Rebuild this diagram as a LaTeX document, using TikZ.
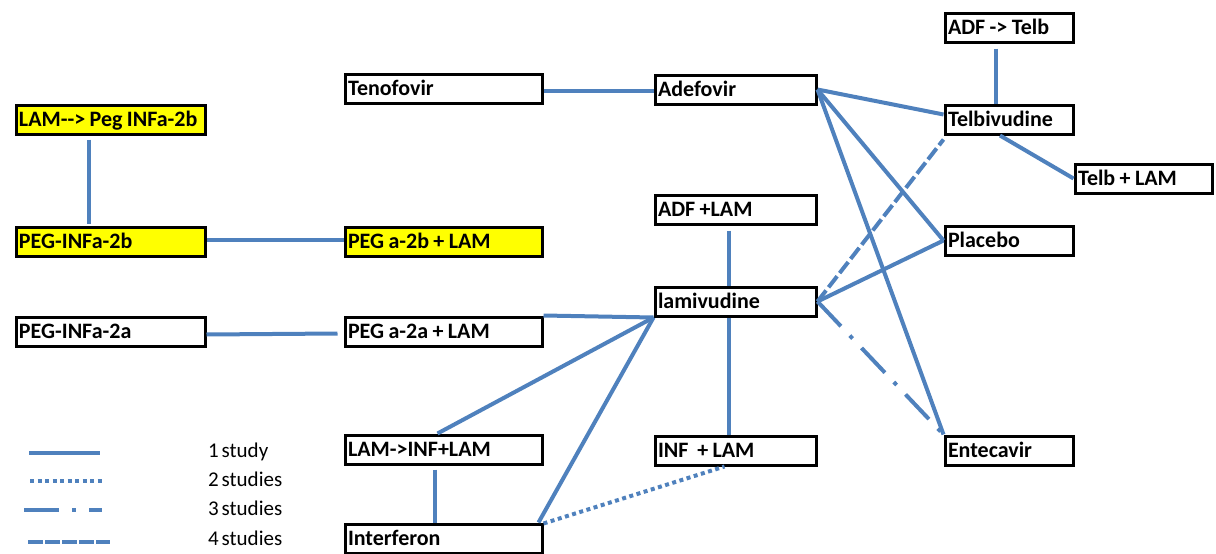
\documentclass[tikz,border=0pt]{standalone}
\usepackage{fontspec}
\setmainfont{Carlito}[WordSpace=0.6]
\definecolor{linkblue}{RGB}{79,129,189}
\definecolor{hiyellow}{RGB}{255,255,0}
\newcommand{\drugfont}{\fontsize{22}{24}\selectfont\bfseries}
\newcommand{\tightwords}{\spaceskip 0.2em\relax\xspaceskip 0.2em\relax}
\begin{document}
\begin{tikzpicture}[x=1pt,y=-1pt,
  drug/.style={draw=black, line width=3pt, anchor=north west, inner xsep=3pt,
    inner ysep=0pt, minimum height=29pt, text width=#1, align=left,
    text height=14pt, text depth=0pt, font=\drugfont,
    execute at begin node=\tightwords},
  hl/.style={fill=hiyellow},
  link/.style={draw=linkblue, line width=4pt},
  one/.style={link},
  two/.style={link, dash pattern=on 4pt off 3.5pt},
  three/.style={link, dash pattern=on 34pt off 13pt on 4pt off 13pt},
  four/.style={link, dash pattern=on 14pt off 4pt},
  key/.style={anchor=base west, inner sep=0pt, font=\fontsize{21}{24}\selectfont}]

\useasboundingbox (0,0) rectangle (1216,554);

% treatment boxes
\node[drug=183pt, hl] (lampeg)   at (14.5,103.5)  {\mbox{LAM-{}-> Peg INFa-2b}};
\node[drug=183pt, hl] (peg2b)    at (14.5,225.5)  {PEG-INFa-2b};
\node[drug=183pt]     (peg2a)    at (14.5,315.5)  {PEG-INFa-2a};

\node[drug=191pt]     (teno)     at (343.5,72.5)  {Tenofovir};
\node[drug=191pt, hl] (peg2blam) at (343.5,225.5) {PEG a-2b + LAM};
\node[drug=191pt]     (peg2alam) at (343.5,315.5) {PEG a-2a + LAM};
\node[drug=191pt]     (lamiinf)  at (343.5,433.5) {LAM->INF+LAM};
\node[drug=191pt]     (interf)   at (343.5,522.5) {Interferon};

\node[drug=155pt]     (adef)     at (653.5,73.5)  {Adefovir};
\node[drug=155pt]     (adflam)   at (653.5,193.5) {ADF +LAM};
\node[drug=155pt]     (lami)     at (653.5,285.5) {lamivudine};
\node[drug=155pt]     (inflam)   at (653.5,434.5) {INF\ \ + LAM};

\node[drug=122pt]     (adftelb)  at (943.5,11.5)  {ADF -> Telb};
\node[drug=122pt]     (telb)     at (943.5,103.5) {Telbivudine};
\node[drug=131pt]     (telblam)  at (1073.5,162.5) {Telb + LAM};
\node[drug=122pt]     (placebo)  at (943.5,224.5) {Placebo};
\node[drug=122pt]     (ente)     at (943.5,434.5) {Entecavir};

% comparisons
\draw[one] ([yshift=-2pt]teno.east) -- ([yshift=-1pt]adef.west);
\draw[one] (adef.east) -- ([yshift=5pt]telb.west);
\draw[one] (adef.east) -- (placebo.west);
\draw[one] (adef.east) -- (ente.north west);
\draw[one] ([xshift=-13pt,yshift=-5pt]adftelb.south) -- ([xshift=-13pt]telb.north);
\draw[one] ([xshift=-9pt]telb.south) -- (telblam.west);

\draw[four]  (lami.east) -- ([yshift=-4pt]telb.south west);
\draw[one]   (lami.east) -- (placebo.west);
\draw[three] (lami.east) -- (ente.north west);
\draw[one] ([xshift=-7pt,yshift=-5pt]adflam.south) -- ([xshift=-7pt]lami.north);
\draw[one] ([xshift=-7pt]lami.south) -- ([xshift=-7pt]inflam.north);

\draw[one] (peg2alam.north east) -- (lami.south west);
\draw[one] ([xshift=-6pt]lamiinf.north) -- (lami.south west);
\draw[one] ([xshift=-5pt]interf.north east) -- (lami.south west);
\draw[two] ([yshift=-1pt]interf.north east) -- ([xshift=-11pt]inflam.south);
\draw[one] ([xshift=-9pt,yshift=-4pt]lamiinf.south) -- ([xshift=-9pt]interf.north);

\draw[one] ([xshift=-22pt,yshift=-4pt]lampeg.south) -- ([xshift=-22pt,yshift=2pt]peg2b.north);
\draw[one] ([yshift=1.5pt]peg2b.east) -- ([yshift=1.5pt]peg2blam.west);
\draw[one] ([yshift=-3pt]peg2a.east) -- ([xshift=-6pt,yshift=-2pt]peg2alam.west);

% legend
\coordinate (k1a) at (29,453);  \coordinate (k1b) at (100,453);
\coordinate (k2a) at (30,481);  \coordinate (k2b) at (104,481);
\coordinate (k3a) at (24,510);  \coordinate (k3b) at (102,510);
\coordinate (k4a) at (28,542);  \coordinate (k4b) at (110,542);
\draw[one]   (k1a) -- (k1b);
\draw[two]   (k2a) -- (k2b);
\draw[three, dash pattern=on 35pt off 13pt on 4pt off 13pt] (k3a) -- (k3b);
\draw[four, dash pattern=on 15pt off 2pt] (k4a) -- (k4b);
\node[key] (k1) at (208,457) {1 study};
\node[key] (k2) at (208,486) {2 studies};
\node[key] (k3) at (208,515) {3 studies};
\node[key] (k4) at (208,545) {4 studies};
\end{tikzpicture}
\end{document}
